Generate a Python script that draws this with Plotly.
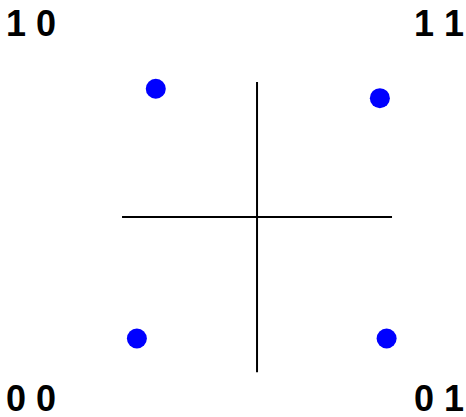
import plotly.graph_objects as go

# constellation points (in-phase, quadrature)
pts_i = [-0.75, 0.91, -0.89, 0.96]
pts_q = [0.95, 0.88, -0.90, -0.90]

# corner bit labels
labels = ["1 0", "1 1", "0 0", "0 1"]

fig = go.Figure()

# axes cross
fig.add_trace(go.Scatter(x=[-1.0, 1.0], y=[0, 0], mode="lines",
                         line=dict(color="black", width=2), hoverinfo="skip"))
fig.add_trace(go.Scatter(x=[0, 0], y=[1.0, -1.15], mode="lines",
                         line=dict(color="black", width=2), hoverinfo="skip"))

fig.add_trace(go.Scatter(x=pts_i, y=pts_q, mode="markers",
                         marker=dict(color="#0000ff", size=20, line=dict(width=0))))

pos = [(0, 1, "left", "top"), (1, 1, "right", "top"),
       (0, 0, "left", "bottom"), (1, 0, "right", "bottom")]
for lab, (px_, py_, xa, ya) in zip(labels, pos):
    fig.add_annotation(text="<b>" + lab + "</b>", x=px_, y=py_, xref="paper", yref="paper",
                       xanchor=xa, yanchor=ya, showarrow=False,
                       font=dict(family="Arial", size=36, color="black"),
                       xshift=4 if px_ == 0 else 0,
                       yshift=-1 if py_ == 1 else -4)

fig.update_xaxes(range=[-1.904, 1.548], visible=False)
fig.update_yaxes(range=[-1.481, 1.607], visible=False)
fig.update_layout(width=466, height=417, margin=dict(l=0, r=0, t=0, b=0),
                  showlegend=False, plot_bgcolor="white", paper_bgcolor="white")

fig.write_html("out.html", config={"displayModeBar": False},
               post_script="document.body.style.margin='0';")
